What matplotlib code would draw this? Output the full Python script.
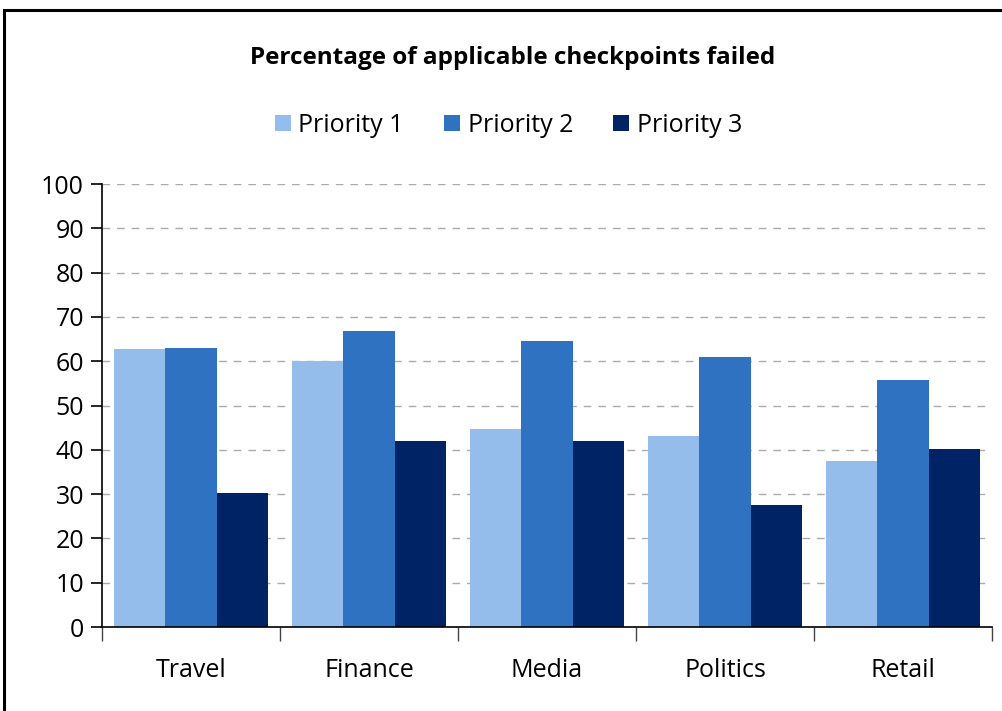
import matplotlib.pyplot as plt
import numpy as np
from matplotlib.patches import Rectangle

categories = ["Travel", "Finance", "Media", "Politics", "Retail"]
series_names = ["Priority 1", "Priority 2", "Priority 3"]
priority1 = [62.8, 60.0, 44.7, 43.1, 37.5]
priority2 = [63.0, 66.8, 64.6, 60.9, 55.8]
priority3 = [30.2, 42.0, 42.0, 27.5, 40.2]
colors = ["#95BDEB", "#3072C2", "#002366"]

plt.rcParams["font.family"] = ["Open Sans", "DejaVu Sans"]

fig = plt.figure(figsize=(10.03, 7.11), dpi=100)
ax = fig.add_axes([0.1017, 0.1181, 0.8873, 0.6231])

# outer frame (top and left visible, runs off the right/bottom edges)
fig.patches.append(Rectangle((0.004, -0.05), 1.1, 0.036 + 0.05 + 0.95,
                             transform=fig.transFigure, fill=False,
                             edgecolor="black", linewidth=2.2))

x = np.arange(len(categories))
w = 0.29
handles = []
for i, vals in enumerate([priority1, priority2, priority3]):
    b = ax.bar(x + (i - 1) * w, vals, width=w, color=colors[i],
               label=series_names[i], zorder=2)
    handles.append(b)

ax.set_xlim(-0.5, len(categories) - 0.5)
ax.set_ylim(0, 100)
ax.set_yticks(range(0, 101, 10))
for v in range(10, 101, 10):
    ax.axhline(v, color="#ababab", linestyle=(0, (5.5, 5)), linewidth=1, zorder=1)

ax.set_xticks(np.arange(-0.5, len(categories), 1.0))
ax.set_xticklabels([])
ax.set_xticks(x, minor=True)
ax.set_xticklabels(categories, minor=True, fontsize=18)
ax.tick_params(axis="x", which="minor", length=0, pad=22)
ax.tick_params(axis="x", which="major", length=10, width=1, color="#444444")
ax.tick_params(axis="y", length=8, width=1.2, labelsize=18, pad=5)

for s in ["top", "right"]:
    ax.spines[s].set_visible(False)
ax.spines["left"].set_linewidth(1.2)
ax.spines["bottom"].set_linewidth(1.2)

fig.text(0.511, 0.918, "Percentage of applicable checkpoints failed",
         ha="center", va="center", fontsize=17.5, fontweight="bold")

fig.legend(handles=handles, loc="center", bbox_to_anchor=(0.507, 0.824),
           ncol=3, frameon=False, fontsize=18, handlelength=0.65,
           handleheight=0.65, handletextpad=0.3, columnspacing=1.6)

fig.savefig("out.png", dpi=100)
